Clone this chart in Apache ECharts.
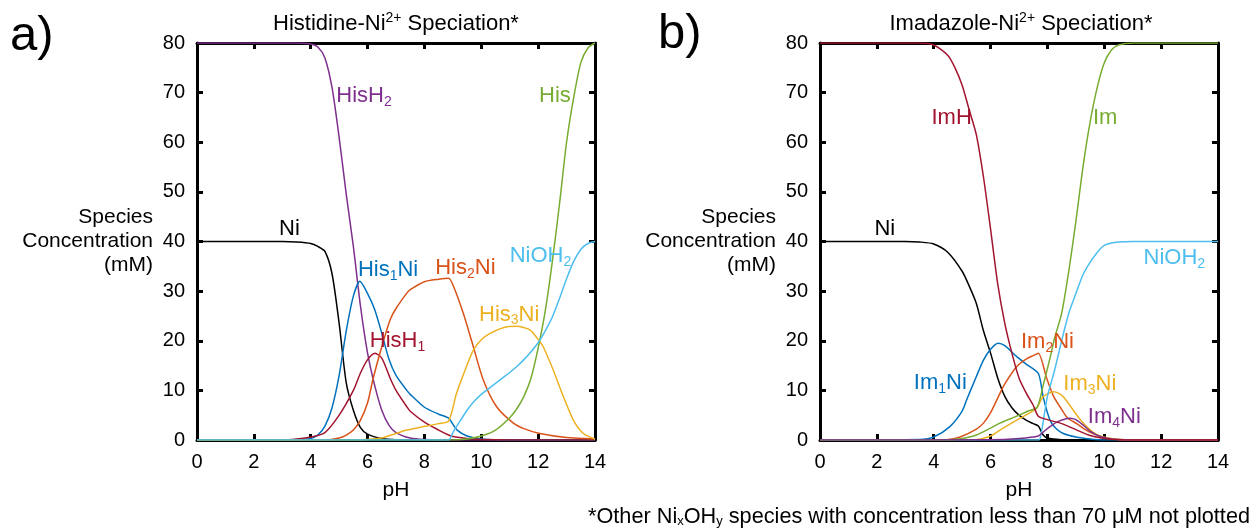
<!DOCTYPE html>
<html><head><meta charset="utf-8">
<script src="https://cdn.jsdelivr.net/npm/echarts@6/dist/echarts.min.js"></script>
<style>html,body{margin:0;padding:0;background:#fff}#c{width:1254px;height:531px}</style>
</head><body><div id="c"></div>
<script>
// ---------- data (pH, concentration in mM) ----------
const xTickLabels = ['0','2','4','6','8','10','12','14'];
const yTickLabels = ['0','10','20','30','40','50','60','70','80'];

// Panel a) Histidine-Ni2+
const hisNi_Ni = [[0,40],[3,40],[3.5,39.9],[4,39.6],[4.25,39],[4.5,38],[4.75,33.5],[5,23.5],[5.25,11.5],[5.5,6],[5.75,2.5],[6,1.2],[6.5,0.3],[7,0.05],[8,0],[14,0]];
const hisNi_HisH2 = [[0,80],[3.5,80],[4,79.8],[4.25,79.2],[4.5,77],[4.75,71],[5,61],[5.25,49.5],[5.5,39],[5.75,27],[6,17.5],[6.25,11],[6.5,6],[6.75,3],[7,1.5],[7.5,0.4],[8,0.1],[9,0],[14,0]];
const hisNi_His1Ni = [[0,0],[3.5,0],[4,0.3],[4.25,1],[4.5,2.8],[4.75,6.5],[5,13],[5.25,22],[5.5,29],[5.73,32],[6,29.5],[6.25,26.3],[6.5,21.5],[6.75,16.3],[7,13],[7.38,10],[7.5,9.2],[8,6.6],[8.5,5.2],[8.85,4.4],[9,3.2],[9.15,2],[9.5,0.8],[10,0.2],[11,0],[14,0]];
const hisNi_HisH1 = [[0,0],[3,0],[3.5,0.2],[4,0.6],[4.5,1.5],[5,5],[5.5,10],[5.75,13.5],[6,16.2],[6.26,17.5],[6.5,16.5],[6.79,12.5],[7,10],[7.38,6.7],[7.5,5.8],[8,3.6],[8.5,2],[8.85,1],[9,0.7],[9.5,0.3],[10,0.1],[11,0],[14,0]];
const hisNi_His2Ni = [[0,0],[4.5,0],[5,0.4],[5.25,1],[5.5,2],[5.75,4],[6,7.5],[6.2,12.5],[6.5,18.8],[6.79,24.2],[7,26.5],[7.38,29.6],[7.5,30.3],[8,31.9],[8.5,32.4],[8.85,32.6],[9,31.3],[9.37,25.5],[9.72,18.8],[10.07,12.1],[10.54,6.7],[11.13,3.4],[11.5,2.3],[12.06,1.3],[13,0.5],[14,0.2]];
const hisNi_His3Ni = [[0,0],[5.5,0],[6,0.1],[6.5,0.4],[6.67,0.7],[7,1.3],[7.38,2],[7.96,2.7],[8.5,3.3],[8.85,3.8],[9.13,9.4],[9.48,14.8],[9.72,18.1],[10,20.2],[10.31,21.5],[10.9,22.8],[11.24,22.9],[11.71,22.2],[12.06,19.8],[12.18,18.8],[12.53,14.1],[12.89,8.7],[13.24,4],[13.59,1.3],[14,0.2]];
const hisNi_NiOH2 = [[0,0],[8.5,0],[8.85,0],[9,1.5],[9.25,3.8],[9.5,6],[9.75,7.8],[10,9.2],[10.25,10.3],[10.5,11.4],[10.75,12.5],[11,13.6],[11.25,14.8],[11.5,16.2],[11.75,17.8],[12,19.6],[12.25,22],[12.5,24.8],[12.75,28.5],[13,32.5],[13.25,36],[13.5,38.4],[13.75,39.6],[14,40]];
const hisNi_His = [[0,0],[9,0],[9.5,0.2],[10,0.8],[10.5,2],[11,4.5],[11.25,6.3],[11.5,8.8],[11.75,12.5],[12,18.5],[12.25,26],[12.5,36],[12.75,47.5],[13,60],[13.25,69],[13.5,76],[13.75,79],[14,80]];

// Panel b) Imidazole-Ni2+
const imNi_Ni = [[0,40],[3,40],[3.5,39.9],[4,39.5],[4.5,37.8],[5,34],[5.25,31],[5.5,27.5],[5.75,22],[6,17.5],[6.25,12.5],[6.5,8.8],[6.75,6.5],[7,5],[7.25,4],[7.5,3.3],[7.68,2.8],[7.85,1],[8,0.4],[8.5,0.05],[9,0],[14,0]];
const imNi_Im1Ni = [[0,0],[3.5,0.1],[4,0.6],[4.57,2.7],[5,5.8],[5.16,8.1],[5.5,12.8],[5.75,16.1],[6,18.3],[6.27,19.5],[6.5,19],[6.92,16.8],[7.25,15.3],[7.68,13.4],[7.85,8.7],[8.09,4],[8.3,2.3],[8.56,1.3],[9,0.6],[9.5,0.2],[10,0],[14,0]];
const imNi_Im2Ni = [[0,0],[4.5,0.1],[4.93,0.6],[5.5,2.2],[5.75,3.4],[6,5.5],[6.33,9.4],[6.5,11.3],[6.92,14.8],[7.25,16.3],[7.5,17],[7.68,17.5],[7.97,12.5],[8.2,9],[8.44,6.7],[8.7,4.5],[9.03,3.3],[9.3,2.2],[9.6,1.3],[10,0.5],[10.5,0.1],[11,0],[14,0]];
const imNi_Im3Ni = [[0,0],[5.5,0.1],[6,0.8],[6.33,2],[6.92,4],[7.3,5.2],[7.62,6.4],[7.85,8.7],[8.21,9.7],[8.4,9.4],[8.56,8.7],[8.91,6],[9.1,4.5],[9.38,2.7],[9.6,1.6],[9.85,0.8],[10.2,0.3],[10.5,0.1],[11,0],[14,0]];
const imNi_NiOH2 = [[0,0],[7.4,0],[7.7,0],[7.8,2],[8,8.8],[8.25,14],[8.5,20],[8.75,25.5],[9,29.5],[9.25,33.3],[9.5,35.8],[9.75,37.8],[10,39.2],[10.25,39.7],[10.5,39.9],[11,40],[14,40]];
const imNi_Im = [[0,0],[4.5,0],[5,0.3],[5.5,1],[6,2.4],[6.33,3.4],[6.92,4.8],[7.3,5.8],[7.64,6.6],[7.85,11],[8.09,16.5],[8.25,20.5],[8.5,25.5],[8.75,34],[9,44],[9.25,55],[9.5,64],[9.75,71],[10,76],[10.25,78.6],[10.5,79.6],[11,80],[14,80]];
const imNi_Im4Ni = [[0,0],[6,0.05],[7,0.3],[7.68,0.8],[7.85,1.6],[8.09,2.7],[8.4,3.8],[8.79,4.4],[9,4.1],[9.26,3],[9.5,1.8],[9.85,0.7],[10.2,0.25],[10.5,0.1],[11,0],[14,0]];
const imNi_ImH = [[0,80],[3.5,80],[4,79.6],[4.5,77.5],[4.75,75],[5,71.5],[5.25,66.5],[5.5,61.5],[5.75,53],[6,42.5],[6.25,31.5],[6.5,23.5],[6.75,17.5],[7,12.5],[7.25,9.5],[7.5,7],[7.68,4.8],[8,4.1],[8.5,3.3],[9,2.1],[9.5,0.9],[10,0.3],[10.5,0.05],[11,0],[14,0]];

// ---------- styling ----------
const FONT = '"Liberation Sans", Arial, Helvetica, sans-serif';
const COL = {blue:'#0072BD', orange:'#D95319', yellow:'#EDB120', purple:'#7E2F8E', green:'#77AC30', cyan:'#4DBEEE', red:'#A2142F', black:'#000000'};

function rich(color){
  return {
    m:{fontSize:22, fontFamily:FONT, color:color, lineHeight:26},
    s:{fontSize:14, fontFamily:FONT, color:color, lineHeight:13, verticalAlign:'bottom'}
  };
}

// series definitions: [name, data, color, label text, label anchor (data units), anchor side]
const panelA = [
  ['Ni', hisNi_Ni, COL.black, '{m|Ni}', [3.25,42.5], 'inside'],
  ['HisH2', hisNi_HisH2, COL.purple, '{m|HisH}{s|2}', [4.9,69.3], 'right'],
  ['His1Ni', hisNi_His1Ni, COL.blue, '{m|His}{s|1}{m|Ni}', [5.66,34.3], 'right'],
  ['HisH1', hisNi_HisH1, COL.red, '{m|HisH}{s|1}', [6.08,19.9], 'right'],
  ['His2Ni', hisNi_His2Ni, COL.orange, '{m|His}{s|2}{m|Ni}', [8.38,34.6], 'right'],
  ['His3Ni', hisNi_His3Ni, COL.yellow, '{m|His}{s|3}{m|Ni}', [9.92,25.3], 'right'],
  ['His', hisNi_His, COL.green, '{m|His}', [13.15,69.3], 'left'],
  ['NiOH2', hisNi_NiOH2, COL.cyan, '{m|NiOH}{s|2}', [11.0,37.0], 'right']
];
const panelB = [
  ['Ni', imNi_Ni, COL.black, '{m|Ni}', [2.28,42.5], 'inside'],
  ['Im1Ni', imNi_Im1Ni, COL.blue, '{m|Im}{s|1}{m|Ni}', [3.3,11.4], 'right'],
  ['Im2Ni', imNi_Im2Ni, COL.orange, '{m|Im}{s|2}{m|Ni}', [7.07,19.8], 'right'],
  ['Im3Ni', imNi_Im3Ni, COL.yellow, '{m|Im}{s|3}{m|Ni}', [8.56,11.2], 'right'],
  ['NiOH2', imNi_NiOH2, COL.cyan, '{m|NiOH}{s|2}', [11.38,36.7], 'right'],
  ['Im', imNi_Im, COL.green, '{m|Im}', [9.6,64.8], 'right'],
  ['Im4Ni', imNi_Im4Ni, COL.purple, '{m|Im}{s|4}{m|Ni}', [9.42,4.7], 'right'],
  ['ImH', imNi_ImH, COL.red, '{m|ImH}', [3.92,64.8], 'right']
];

function makeSeries(defs, axisIdx){
  return defs.map(d => ({
    type:'line', name:d[0], data:d[1], xAxisIndex:axisIdx, yAxisIndex:axisIdx,
    showSymbol:false, smooth:0.25, animation:false,
    lineStyle:{color:d[2], width:1.5}, itemStyle:{color:d[2]},
    markPoint:{
      symbol:'circle', symbolSize:0, silent:true, animation:false,
      data:[{coord:d[4]}],
      label:{show:true, position:d[5], distance:0, formatter:d[3], rich:rich(d[2])}
    }
  }));
}

const tickCommon = {show:true, inside:true, length:6, lineStyle:{color:'#000', width:3}};
const lineCommon = {show:true, onZero:false, lineStyle:{color:'#000', width:3}};
const labelCommon = {fontSize:20, fontFamily:FONT, color:'#000'};

function xAxes(gridIndex){
  return [
    {type:'value', gridIndex, min:0, max:14, interval:2, position:'bottom',
     axisLine:lineCommon, axisTick:tickCommon, splitLine:{show:false},
     axisLabel:Object.assign({margin:12, formatter:(v)=>xTickLabels[v/2]}, labelCommon),
     name:'pH', nameLocation:'middle', nameGap:40, nameTextStyle:{fontSize:21, fontFamily:FONT, color:'#000'}},
    {type:'value', gridIndex, min:0, max:14, interval:2, position:'top',
     axisLine:lineCommon, axisTick:tickCommon, splitLine:{show:false}, axisLabel:{show:false}}
  ];
}
function yAxes(gridIndex){
  return [
    {type:'value', gridIndex, min:0, max:80, interval:10, position:'left',
     axisLine:lineCommon, axisTick:tickCommon, splitLine:{show:false},
     axisLabel:Object.assign({margin:12, formatter:(v)=>yTickLabels[v/10]}, labelCommon),
     name:'Species\nConcentration\n(mM)', nameLocation:'middle', nameRotate:0, nameGap:44,
     nameTextStyle:{fontSize:21, fontFamily:FONT, color:'#000', align:'right', verticalAlign:'middle', lineHeight:24}},
    {type:'value', gridIndex, min:0, max:80, interval:10, position:'right',
     axisLine:lineCommon, axisTick:tickCommon, splitLine:{show:false}, axisLabel:{show:false}}
  ];
}

const titleRich = {
  m:{fontSize:22, fontFamily:FONT, fontWeight:'normal', color:'#000', lineHeight:26},
  p:{fontSize:14, fontFamily:FONT, fontWeight:'normal', color:'#000', lineHeight:20, verticalAlign:'top'}
};

const option = {
  backgroundColor:'#fff',
  animation:false,
  title:[
    {text:'{m|Histidine-Ni}{p|2+}{m| Speciation*}', left:391, top:6, textAlign:'center', textStyle:{fontWeight:'normal', rich:titleRich}},
    {text:'{m|Imadazole-Ni}{p|2+}{m| Speciation*}', left:1016, top:6, textAlign:'center', textStyle:{fontWeight:'normal', rich:titleRich}}
  ],
  grid:[
    {left:197, top:43, width:398, height:397},
    {left:820, top:43, width:398, height:397}
  ],
  xAxis:[...xAxes(0), ...xAxes(1)],
  yAxis:[...yAxes(0), ...yAxes(1)],
  series:[...makeSeries(panelA,0).map(s=>Object.assign(s,{xAxisIndex:0,yAxisIndex:0})),
          ...makeSeries(panelB,0).map(s=>Object.assign(s,{xAxisIndex:2,yAxisIndex:2}))],
  graphic:[
    {type:'text', left:10, top:12, style:{text:'a)', fontSize:49, fontFamily:FONT, fill:'#000'}},
    {type:'text', left:658, top:10, style:{text:'b)', fontSize:49, fontFamily:FONT, fill:'#000'}},
    {type:'text', right:4, top:506, style:{text:'*Other Ni{s|x}OH{s|y} species with concentration less than 70 μM not plotted',
      fontSize:21.7, fontFamily:FONT, fill:'#000',
      rich:{s:{fontSize:13, fontFamily:FONT, fill:'#000', lineHeight:10, verticalAlign:'bottom'}}}}
  ]
};

const chart = echarts.init(document.getElementById('c'), null, {renderer:'canvas'});
chart.setOption(option);
</script></body></html>
